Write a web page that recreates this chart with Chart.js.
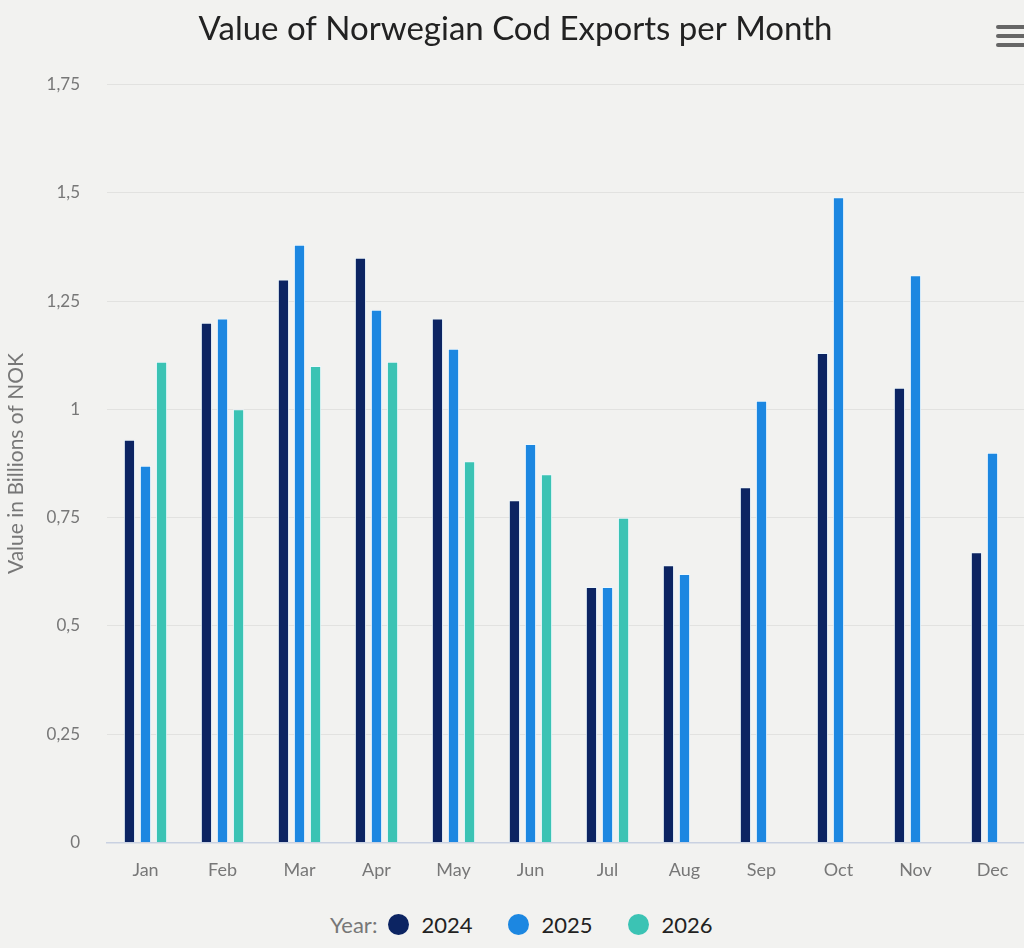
<!DOCTYPE html>
<html>
<head>
<meta charset="utf-8">
<title>Value of Norwegian Cod Exports per Month</title>
<script src="https://cdn.jsdelivr.net/npm/chart.js@4.4.0/dist/chart.umd.min.js"></script>
<style>
  html, body {
    margin: 0;
    padding: 0;
    background: #f2f2f0;
    overflow: hidden;
    font-family: Lato, "Open Sans", sans-serif;
  }
  #wrap {
    position: relative;
    width: 1031px;
    height: 900px;
  }
  #menu {
    position: absolute;
    left: 996px;
    top: 25px;
    width: 32px;
  }
  #menu div {
    height: 4px;
    border-radius: 2px;
    background: #666;
    margin-bottom: 5px;
  }
  #legend {
    position: absolute;
    left: 330px;
    top: 911px;
    display: flex;
    align-items: center;
    font-size: 22px;
  }
  #legend .lbl { color: #777; margin-right: 11px; }
  #legend .dot { width: 21px; height: 21px; border-radius: 50%; margin-right: 12px; }
  #legend .yr { color: #222; margin-right: 36px; }
</style>
</head>
<body>
<div id="wrap">
  <canvas id="myChart"></canvas>
  <div id="menu"><div></div><div></div><div></div></div>
</div>
<div id="legend"><span class="lbl">Year:</span></div>
<script>
// months on the x axis
var months = ["Jan", "Feb", "Mar", "Apr", "May", "Jun", "Jul", "Aug", "Sep", "Oct", "Nov", "Dec"];

// values in billions of NOK
var years = ["2024", "2025", "2026"];
var values2024 = [0.93, 1.2, 1.3, 1.35, 1.21, 0.79, 0.59, 0.64, 0.82, 1.13, 1.05, 0.67];
var values2025 = [0.87, 1.21, 1.38, 1.23, 1.14, 0.92, 0.59, 0.62, 1.02, 1.49, 1.31, 0.9];
var values2026 = [1.11, 1.0, 1.1, 1.11, 0.88, 0.85, 0.75, null, null, null, null, null];

var colors = ["#0c2462", "#1c87e1", "#3bc3b4"];
var yTicks = [0, 0.25, 0.5, 0.75, 1, 1.25, 1.5, 1.75];

var series = [values2024, values2025, values2026];
var datasets = [];
for (var i = 0; i < years.length; i++) {
  datasets.push({
    label: years[i],
    data: series[i],
    backgroundColor: colors[i],
    borderColor: "rgba(235, 248, 255, 0.9)",
    borderWidth: 1,
    categoryPercentage: 0.625,
    barPercentage: 0.7,
  });
}

// legend under the chart
var legend = document.getElementById("legend");
for (var j = 0; j < years.length; j++) {
  var dot = document.createElement("span");
  dot.className = "dot";
  dot.style.background = colors[j];
  var txt = document.createElement("span");
  txt.className = "yr";
  txt.innerText = years[j];
  legend.appendChild(dot);
  legend.appendChild(txt);
}

var ctx = document.getElementById("myChart").getContext("2d");
var chart = new Chart(ctx, {
  type: "bar",
  data: {
    labels: months,
    datasets: datasets,
  },
  options: {
    responsive: true,
    maintainAspectRatio: false,
    animation: false,
    layout: { padding: { right: 0, left: 0, bottom: 10, top: 0 } },
    plugins: {
      legend: { display: false },
      tooltip: { enabled: false },
      title: {
        display: true,
        text: "Value of Norwegian Cod Exports per Month",
        color: "#222",
        font: { family: "Lato", size: 33, weight: "normal" },
        padding: { top: 10, bottom: 35 },
      },
    },
    scales: {
      x: {
        grid: { display: false },
        border: { display: true, color: "#c9d1e1", width: 1.5 },
        ticks: {
          color: "#777",
          font: { family: "Lato", size: 18 },
          padding: 9,
        },
      },
      y: {
        min: 0,
        max: 1.75,
        afterBuildTicks: function (axis) {
          axis.ticks = yTicks.map(function (v) { return { value: v }; });
        },
        afterFit: function (axis) {
          axis.width = 107;
        },
        grid: { color: "#e2e2e0", drawTicks: false },
        border: { display: false },
        ticks: {
          color: "#777",
          font: { family: "Lato", size: 17 },
          padding: 27,
          callback: function (value) {
            return String(value).replace(".", ",");
          },
        },
        title: {
          display: true,
          text: "Value in Billions of NOK",
          color: "#777",
          font: { family: "Lato", size: 21 },
          padding: { top: 4, bottom: 0 },
        },
      },
    },
  },
});
</script>
</body>
</html>
